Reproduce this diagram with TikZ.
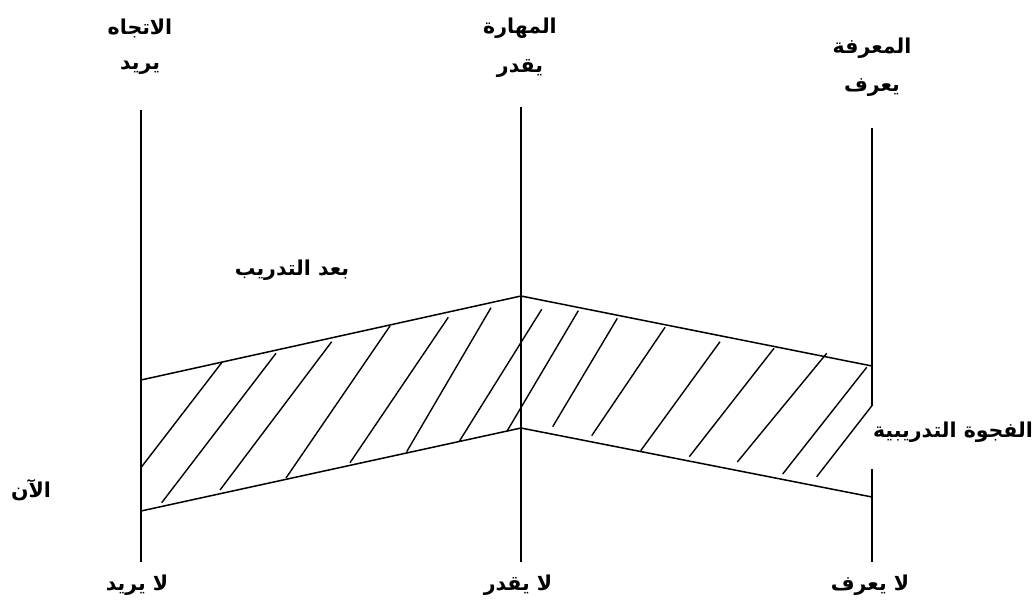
\documentclass[tikz,border=0pt]{standalone}
\usepackage{fontspec}
\newfontfamily\arabicfont[Script=Arabic]{DejaVu Sans}
\TeXXeTstate=1
\newcommand{\ar}[1]{\arabicfont\bfseries\beginR #1\endR}
\begin{document}
\begin{tikzpicture}[x=1pt,y=-1pt,
  lbl/.style={inner sep=0pt, font=\fontsize{20.5}{24}\selectfont},
  axis/.style={line width=1.5pt},
  band/.style={line width=1.5pt},
  hatch/.style={line width=1.4pt}]
\useasboundingbox (0,0) rectangle (1036,608);
% vertical axes
\coordinate (Lt) at (141,110); \coordinate (Lb) at (141,562);
\coordinate (Mt) at (521,107); \coordinate (Mb) at (521,562);
\coordinate (Rt) at (872,128); \coordinate (Rg1) at (872,406);
\coordinate (Rg2) at (872,469); \coordinate (Rb) at (872,562);
\draw[axis] (Lt) -- (Lb);
\draw[axis] (Mt) -- (Mb);
\draw[axis] (Rt) -- (Rg1);
\draw[axis] (Rg2) -- (Rb);
% band
\coordinate (A1) at (141,380); \coordinate (A2) at (521,296); \coordinate (A3) at (872,366);
\coordinate (B1) at (141,511); \coordinate (B2) at (521,428); \coordinate (B3) at (872,497);
\draw[band] (A1) -- (A2) -- (A3);
\draw[band] (B1) -- (B2) -- (B3);
% hatching
\foreach \xa/\ya/\xb/\yb in {
  221.7/362.7/141.7/466.7,
  276/353.3/161.7/502.7,
  331.7/341.7/220/490,
  390/326/286/478,
  448.3/317.3/350/462.7,
  491/307.7/406.7/451.7,
  541.7/309.3/459.3/441.3,
  578.3/310.7/506.7/431.7,
  617.3/318.3/552.7/426.7,
  665/327.3/591.7/435.7,
  720/341.7/640.7/450.7,
  774/348.3/689.3/456.7,
  826.7/353.3/737.3/462,
  866.7/367.3/782.7/474,
  871.7/406/816.7/476.7}
  \draw[hatch] (\xa,\ya) -- (\xb,\yb);
% labels
\node[lbl] (t1a) at (140,28) {\ar{الاتجاه}};
\node[lbl] (t1b) at (140,68) {\ar{يريد}};
\node[lbl] (t2a) at (520,28) {\ar{المهارة}};
\node[lbl] (t2b) at (520,68) {\ar{يقدر}};
\node[lbl] (t3a) at (872,48) {\ar{المعرفة}};
\node[lbl] (t3b) at (872,88) {\ar{يعرف}};
\node[lbl] (b1) at (137,585) {\ar{لا يريد}};
\node[lbl] (b2) at (518,585) {\ar{لا يقدر}};
\node[lbl] (b3) at (870,585) {\ar{لا يعرف}};
\node[lbl] (now) at (31,490) {\ar{الآن}};
\node[lbl] (after) at (292,270) {\ar{بعد التدريب}};
\node[lbl] (gap) at (953,432) {\ar{الفجوة التدريبية}};
\end{tikzpicture}
\end{document}
